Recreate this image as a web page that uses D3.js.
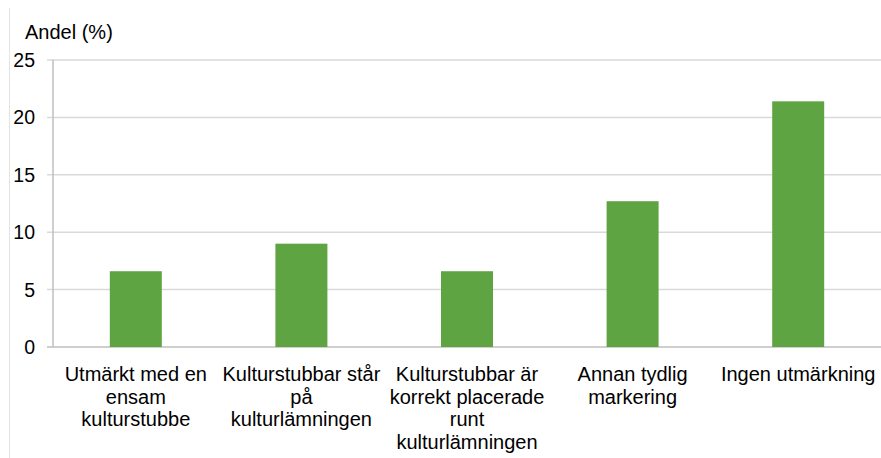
<!DOCTYPE html>
<html>
<head>
<meta charset="utf-8">
<script src="https://cdn.jsdelivr.net/npm/d3@7"></script>
<style>
	body { margin: 0; background: #fff; }
	svg text { font-family: 'Liberation Sans', Arial, sans-serif; fill: #000; }
</style>
</head>
<body>
<svg id="chart" width="881" height="458"></svg>
<script>
// data
const categories = [
	['Utmärkt med en', 'ensam', 'kulturstubbe'],
	['Kulturstubbar står', 'på', 'kulturlämningen'],
	['Kulturstubbar är', 'korrekt placerade', 'runt', 'kulturlämningen'],
	['Annan tydlig', 'markering'],
	['Ingen utmärkning']
]
const values = [6.6, 9.0, 6.6, 12.7, 21.4]
const yTicks = [0, 5, 10, 15, 20, 25]
const yLabel = 'Andel (%)'

const margin = { top: 60, right: 0, bottom: 111, left: 53 }
const width = 881, height = 458
const fontSize = 20

const svg = d3.select('#chart')

const x = d3.scaleBand()
	.domain(d3.range(categories.length))
	.range([margin.left, width - margin.right])
	.paddingInner(0.686)
	.paddingOuter(0.343)

const y = d3.scaleLinear()
	.domain([0, 25])
	.range([height - margin.bottom, margin.top])

// faint frame line on the left
svg.append('line')
	.attr('x1', 9.5).attr('x2', 9.5)
	.attr('y1', 8).attr('y2', height)
	.attr('stroke', '#e3e3e3')

// gridlines + tick marks
svg.append('g')
	.selectAll('line')
	.data(yTicks)
	.join('line')
		.attr('x1', margin.left - 6)
		.attr('x2', width)
		.attr('y1', (d) => y(d))
		.attr('y2', (d) => y(d))
		.attr('stroke', (d) => d === 0 ? '#bfbfbf' : '#d9d9d9')
		.attr('stroke-width', 1.5)

// y axis line
svg.append('line')
	.attr('x1', margin.left).attr('x2', margin.left)
	.attr('y1', y(25)).attr('y2', y(0))
	.attr('stroke', '#bfbfbf')
	.attr('stroke-width', 1.5)

svg.append('g')
	.selectAll('text')
	.data(yTicks)
	.join('text')
		.attr('x', 35)
		.attr('y', (d) => y(d))
		.attr('text-anchor', 'end')
		.attr('dominant-baseline', 'central')
		.attr('font-size', 19.5)
		.text((d) => d)

svg.append('text')
	.attr('x', 25)
	.attr('y', 39)
	.attr('font-size', fontSize)
	.text(yLabel)

// bars
svg.append('g')
	.selectAll('rect')
	.data(values)
	.join('rect')
		.attr('x', (d, i) => x(i))
		.attr('width', x.bandwidth())
		.attr('y', (d) => y(d))
		.attr('height', (d) => y(0) - y(d))
		.attr('fill', '#5fa443')

// category labels
const labels = svg.append('g')
	.selectAll('text')
	.data(categories)
	.join('text')
		.attr('text-anchor', 'middle')
		.attr('font-size', fontSize)

labels.selectAll('tspan')
	.data((d, i) => d.map((line) => ({ line, i })))
	.join('tspan')
		.attr('x', (d) => x(d.i) + x.bandwidth() / 2)
		.attr('y', (d, j) => 381 + j * 22.6)
		.text((d) => d.line)
</script>
</body>
</html>
